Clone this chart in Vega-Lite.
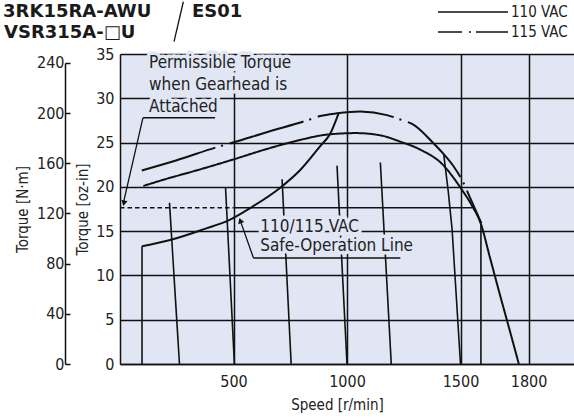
{
  "$schema": "https://vega.github.io/schema/vega-lite/v6.json",
  "width": 454,
  "height": 310,
  "autosize": "none",
  "padding": {"left": 120, "top": 54, "right": 0, "bottom": 56},
  "background": "#ffffff",
  "config": {
    "font": "DejaVu Sans Condensed",
    "view": {"fill": "#e1e6f5", "stroke": null},
    "axis": {
      "labelFont": "DejaVu Sans Condensed", "labelFontSize": 16, "labelColor": "#222",
      "titleFont": "DejaVu Sans Condensed", "titleFontSize": 15, "titleFontWeight": "normal", "titleColor": "#222",
      "domainColor": "#111", "domainWidth": 1.5, "gridColor": "#111", "gridWidth": 1.5, "gridOpacity": 1,
      "tickColor": "#111", "tickWidth": 1.5, "zindex": 0
    },
    "legend": {
      "labelFont": "DejaVu Sans Condensed", "labelFontSize": 15, "labelColor": "#222"
    }
  },
  "datasets": {
    "m110": [
      {"v": "110 VAC", "speed": 103, "torque": 20.1},
      {"v": "110 VAC", "speed": 191, "torque": 20.8},
      {"v": "110 VAC", "speed": 350, "torque": 21.95},
      {"v": "110 VAC", "speed": 500, "torque": 23.1},
      {"v": "110 VAC", "speed": 650, "torque": 24.3},
      {"v": "110 VAC", "speed": 794, "torque": 25.3},
      {"v": "110 VAC", "speed": 912, "torque": 25.9},
      {"v": "110 VAC", "speed": 1040, "torque": 26.07},
      {"v": "110 VAC", "speed": 1150, "torque": 25.8},
      {"v": "110 VAC", "speed": 1235, "torque": 25.1},
      {"v": "110 VAC", "speed": 1323, "torque": 24.2},
      {"v": "110 VAC", "speed": 1426, "torque": 22.4},
      {"v": "110 VAC", "speed": 1470, "torque": 21.0},
      {"v": "110 VAC", "speed": 1500, "torque": 19.9},
      {"v": "110 VAC", "speed": 1550, "torque": 17.9},
      {"v": "110 VAC", "speed": 1590, "torque": 15.8},
      {"v": "110 VAC", "speed": 1630, "torque": 12.0},
      {"v": "110 VAC", "speed": 1676, "torque": 7.6},
      {"v": "110 VAC", "speed": 1720, "torque": 3.5},
      {"v": "110 VAC", "speed": 1757, "torque": 0}
    ],
    "m115": [
      {"v": "115 VAC", "speed": 96, "torque": 21.85},
      {"v": "115 VAC", "speed": 250, "torque": 23.0},
      {"v": "115 VAC", "speed": 429, "torque": 24.5},
      {"v": "115 VAC", "speed": 497, "torque": 25.0},
      {"v": "115 VAC", "speed": 650, "torque": 26.2},
      {"v": "115 VAC", "speed": 824, "torque": 27.5},
      {"v": "115 VAC", "speed": 882, "torque": 28.0},
      {"v": "115 VAC", "speed": 956, "torque": 28.3},
      {"v": "115 VAC", "speed": 1059, "torque": 28.5},
      {"v": "115 VAC", "speed": 1176, "torque": 28.1},
      {"v": "115 VAC", "speed": 1235, "torque": 27.6},
      {"v": "115 VAC", "speed": 1294, "torque": 27.0},
      {"v": "115 VAC", "speed": 1382, "torque": 24.9},
      {"v": "115 VAC", "speed": 1426, "torque": 23.7},
      {"v": "115 VAC", "speed": 1470, "torque": 22.3},
      {"v": "115 VAC", "speed": 1514, "torque": 20.4},
      {"v": "115 VAC", "speed": 1540, "torque": 18.9},
      {"v": "115 VAC", "speed": 1592, "torque": 15.9}
    ],
    "safe": [
      {"speed": 97, "torque": 13.3},
      {"speed": 221, "torque": 14.0},
      {"speed": 367, "torque": 15.2},
      {"speed": 485, "torque": 16.3},
      {"speed": 573, "torque": 17.6},
      {"speed": 706, "torque": 19.9},
      {"speed": 794, "torque": 21.9},
      {"speed": 882, "torque": 24.6},
      {"speed": 926, "torque": 26.0},
      {"speed": 963, "torque": 28.3}
    ],
    "spd": [
      {"id": "L1", "speed": 97, "torque": 13.3},
      {"id": "L1", "speed": 97, "torque": 0},
      {"id": "L2", "speed": 218, "torque": 18.2},
      {"id": "L2", "speed": 262, "torque": 0},
      {"id": "L3", "speed": 465, "torque": 19.9},
      {"id": "L3", "speed": 504, "torque": 0},
      {"id": "L4", "speed": 714, "torque": 20.85},
      {"id": "L4", "speed": 754, "torque": 0},
      {"id": "L5", "speed": 956, "torque": 22.4},
      {"id": "L5", "speed": 1000, "torque": 0},
      {"id": "L6", "speed": 1147, "torque": 22.75},
      {"id": "L6", "speed": 1195, "torque": 0},
      {"id": "L7", "speed": 1426, "torque": 23.7},
      {"id": "L7", "speed": 1446, "torque": 19.5},
      {"id": "L7", "speed": 1463, "torque": 15.2},
      {"id": "L7", "speed": 1500, "torque": 0},
      {"id": "L8", "speed": 1590, "torque": 15.8},
      {"id": "L8", "speed": 1590, "torque": 0}
    ],
    "permDash": [
      {"speed": 0, "torque": 17.65},
      {"speed": 500, "torque": 17.65}
    ],
    "permSolid": [
      {"speed": 500, "torque": 17.65},
      {"speed": 1550, "torque": 17.65}
    ],
    "leaders": [
      {"id": "u1", "speed": 101, "torque": 27.8},
      {"id": "u1", "speed": 419, "torque": 27.8},
      {"id": "a1", "speed": 101, "torque": 27.8},
      {"id": "a1", "speed": 16, "torque": 18.3},
      {"id": "u2", "speed": 588, "torque": 11.97},
      {"id": "u2", "speed": 1235, "torque": 11.97},
      {"id": "a2", "speed": 588, "torque": 11.97},
      {"id": "a2", "speed": 531, "torque": 16.1},
      {"id": "sl", "speed": 279, "torque": 40.9},
      {"id": "sl", "speed": 238, "torque": 36.39}
    ],
    "arrow1": [{"speed": 17, "torque": 18.15}],
    "arrow2": [{"speed": 530, "torque": 16.2}],
    "notes": [
      {"label": "Permissible Torque", "speed": 128, "torque": 34.0},
      {"label": "when Gearhead is", "speed": 128, "torque": 31.54},
      {"label": "Attached", "speed": 128, "torque": 29.05},
      {"label": "110/115 VAC", "speed": 618, "torque": 15.45},
      {"label": "Safe-Operation Line", "speed": 618, "torque": 13.28}
    ],
    "header": [
      {"label": "3RK15RA-AWU", "speed": -515, "torque": 39.18},
      {"label": "VSR315A-□U", "speed": -511, "torque": 36.85},
      {"label": "ES01", "speed": 317, "torque": 39.18}
    ],
    "nm": [
      {"torque": 0},
      {"torque": 33.99}
    ]
  },
  "layer": [
    {
      "layer": [
        {
          "data": {"name": "m110"},
          "mark": {"type": "line", "strokeWidth": 2, "color": "#111", "interpolate": "monotone"},
          "encoding": {
            "x": {
              "field": "speed", "type": "quantitative",
              "scale": {"domain": [0, 2000], "nice": false, "zero": false},
              "axis": {"values": [500, 1000, 1500, 1800], "format": "d", "ticks": false, "labelPadding": 9, "title": "Speed [r/min]", "titlePadding": 8, "titleX": 217, "grid": true}
            },
            "y": {
              "field": "torque", "type": "quantitative",
              "scale": {"domain": [0, 35], "nice": false},
              "axis": {"values": [0, 5, 10, 15, 20, 25, 30, 35], "ticks": false, "labelPadding": 6, "title": "Torque [oz-in]", "titlePadding": 5, "grid": true}
            },
            "strokeDash": {
              "field": "v", "type": "nominal",
              "scale": {"domain": ["110 VAC", "115 VAC"], "range": [[1, 0], [24, 7, 2, 5, 32, 10]]},
              "legend": {
                "orient": "none", "legendX": 317, "legendY": -50, "title": null,
                "symbolType": "stroke", "symbolSize": 4900, "symbolStrokeWidth": 1.5, "symbolStrokeColor": "#111",
                "labelOffset": 2, "clipHeight": 16, "rowPadding": 4
              }
            }
          }
        },
        {
          "data": {"name": "m115"},
          "mark": {"type": "line", "strokeWidth": 2, "color": "#111", "interpolate": "monotone", "strokeDash": [77, 6, 2, 7]},
          "encoding": {
            "x": {"field": "speed", "type": "quantitative"},
            "y": {"field": "torque", "type": "quantitative"}
          }
        },
        {
          "data": {"name": "safe"},
          "mark": {"type": "line", "strokeWidth": 2, "color": "#111", "interpolate": "monotone"},
          "encoding": {
            "x": {"field": "speed", "type": "quantitative"},
            "y": {"field": "torque", "type": "quantitative"}
          }
        },
        {
          "data": {"name": "spd"},
          "mark": {"type": "line", "strokeWidth": 1.6, "color": "#111"},
          "encoding": {
            "x": {"field": "speed", "type": "quantitative"},
            "y": {"field": "torque", "type": "quantitative"},
            "detail": {"field": "id", "type": "nominal"},
            "order": {"field": "torque", "type": "quantitative", "sort": "descending"}
          }
        },
        {
          "data": {"name": "permDash"},
          "mark": {"type": "line", "strokeWidth": 1.5, "color": "#111", "strokeDash": [4.5, 3]},
          "encoding": {
            "x": {"field": "speed", "type": "quantitative"},
            "y": {"field": "torque", "type": "quantitative"}
          }
        },
        {
          "data": {"name": "permSolid"},
          "mark": {"type": "line", "strokeWidth": 1.5, "color": "#111"},
          "encoding": {
            "x": {"field": "speed", "type": "quantitative"},
            "y": {"field": "torque", "type": "quantitative"}
          }
        },
        {
          "data": {"name": "notes"},
          "mark": {"type": "text", "align": "left", "baseline": "middle", "fontSize": 17, "fill": "#e1e6f5", "stroke": "#e1e6f5", "strokeWidth": 7, "strokeJoin": "round"},
          "encoding": {
            "x": {"field": "speed", "type": "quantitative"},
            "y": {"field": "torque", "type": "quantitative"},
            "text": {"field": "label"}
          }
        },
        {
          "data": {"name": "leaders"},
          "mark": {"type": "line", "strokeWidth": 1.3, "color": "#111"},
          "encoding": {
            "x": {"field": "speed", "type": "quantitative"},
            "y": {"field": "torque", "type": "quantitative"},
            "detail": {"field": "id", "type": "nominal"},
            "order": {"field": "torque", "type": "quantitative"}
          }
        },
        {
          "data": {"name": "arrow1"},
          "mark": {"type": "point", "shape": "triangle-up", "size": 40, "filled": true, "color": "#111", "opacity": 1, "angle": 193},
          "encoding": {
            "x": {"field": "speed", "type": "quantitative"},
            "y": {"field": "torque", "type": "quantitative"}
          }
        },
        {
          "data": {"name": "arrow2"},
          "mark": {"type": "point", "shape": "triangle-up", "size": 40, "filled": true, "color": "#111", "opacity": 1, "angle": 341},
          "encoding": {
            "x": {"field": "speed", "type": "quantitative"},
            "y": {"field": "torque", "type": "quantitative"}
          }
        },
        {
          "data": {"name": "notes"},
          "mark": {"type": "text", "align": "left", "baseline": "middle", "fontSize": 17, "color": "#222"},
          "encoding": {
            "x": {"field": "speed", "type": "quantitative"},
            "y": {"field": "torque", "type": "quantitative"},
            "text": {"field": "label"}
          }
        },
        {
          "data": {"name": "header"},
          "mark": {"type": "text", "align": "left", "baseline": "alphabetic", "font": "DejaVu Sans", "fontWeight": "bold", "fontSize": 18, "color": "#1a1a1a"},
          "encoding": {
            "x": {"field": "speed", "type": "quantitative"},
            "y": {"field": "torque", "type": "quantitative"},
            "text": {"field": "label"}
          }
        }
      ]
    },
    {
      "data": {"name": "nm"},
      "mark": {"type": "point", "opacity": 0},
      "encoding": {
        "y": {
          "field": "torque", "type": "quantitative",
          "axis": {
            "orient": "left", "offset": 55, "title": "Torque [N·m]", "titlePadding": 6,
            "values": [0, 5.66448, 11.32896, 16.99344, 22.65792, 28.3224, 33.98688],
            "labelExpr": "format(round(datum.value / 0.1416119), 'd')",
            "tickSize": -5, "labelPadding": 6, "grid": false, "domainDash": [301, 40]
          }
        }
      }
    }
  ],
  "resolve": {"axis": {"y": "independent"}}
}
